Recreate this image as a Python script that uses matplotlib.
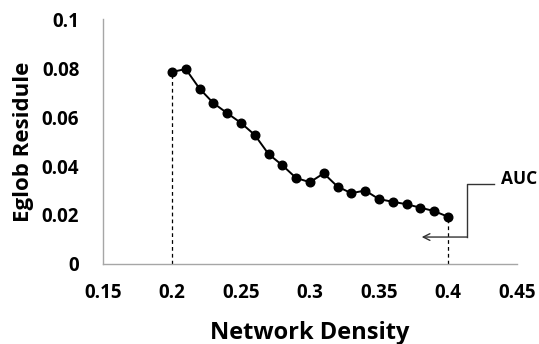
import numpy as np
import matplotlib
matplotlib.use('Agg')
import matplotlib.pyplot as plt

# Data
density = [0.20, 0.21, 0.22, 0.23, 0.24, 0.25, 0.26, 0.27, 0.28, 0.29, 0.30,
           0.31, 0.32, 0.33, 0.34, 0.35, 0.36, 0.37, 0.38, 0.39, 0.40]
residue = [0.0784, 0.0796, 0.0716, 0.0657, 0.0616, 0.0576, 0.0527, 0.0449,
           0.0403, 0.0351, 0.0334, 0.0370, 0.0316, 0.0289, 0.0300, 0.0265,
           0.0254, 0.0244, 0.0230, 0.0216, 0.0193]
xticks = [0.15, 0.2, 0.25, 0.3, 0.35, 0.4, 0.45]
xticklabels = ['0.15', '0.2', '0.25', '0.3', '0.35', '0.4', '0.45']
yticks = [0, 0.02, 0.04, 0.06, 0.08, 0.1]
yticklabels = ['0', '0.02', '0.04', '0.06', '0.08', '0.1']

# AUC callout path (data coords)
auc_x = [0.4335, 0.414, 0.414]
auc_y = [0.0327, 0.0327, 0.011]
auc_tip = (0.381, 0.011)
auc_text_pos = (0.4385, 0.0349)

plt.rcParams['font.family'] = ['Open Sans', 'DejaVu Sans']

fig = plt.figure(figsize=(5.39, 3.44), dpi=100)
ax = fig.add_axes([0.191, 0.2326, 0.768, 0.712])

ax.plot(density, residue, color='black', lw=1.4, marker='o', ms=6.2)

# dashed drop lines at both ends
ax.vlines([density[0], density[-1]], 0, [residue[0], residue[-1]],
          colors='black', linestyles=(0, (3, 2.5)), lw=0.9)

# AUC callout
ax.plot(auc_x, auc_y, color='#333333', lw=1.0)
ax.annotate('', xy=auc_tip, xytext=(auc_x[-1], auc_y[-1]),
            arrowprops=dict(arrowstyle='->', color='#333333', lw=1.0,
                            shrinkA=0, shrinkB=0, mutation_scale=12))
ax.text(auc_text_pos[0], auc_text_pos[1], 'AUC', fontsize=12.5,
        fontweight='bold', va='center', ha='left', clip_on=False)

ax.set_xlim(0.15, 0.45)
ax.set_ylim(0, 0.1)
ax.set_xticks(xticks)
ax.set_xticklabels(xticklabels)
ax.set_yticks(yticks)
ax.set_yticklabels(yticklabels)
ax.tick_params(axis='x', length=0, labelsize=13.5, pad=14)
ax.tick_params(axis='y', length=0, labelsize=13.5, pad=17)
for lbl in ax.get_xticklabels() + ax.get_yticklabels():
    lbl.set_fontweight('bold')

for s in ['top', 'right']:
    ax.spines[s].set_visible(False)
for s in ['left', 'bottom']:
    ax.spines[s].set_color('#a6a6a6')
    ax.spines[s].set_linewidth(1.0)

ax.set_xlabel('Network Density', fontsize=17, fontweight='bold', labelpad=13)
ax.set_ylabel('Eglob Residule', fontsize=16, fontweight='bold', labelpad=6)

fig.savefig('out.png', dpi=100)
